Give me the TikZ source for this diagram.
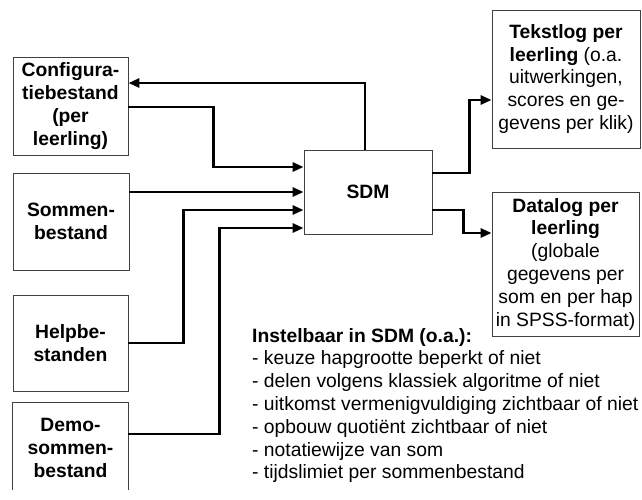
\documentclass[tikz,border=0pt]{standalone}
\usepackage{fontspec}
\setmainfont{Liberation Sans}
\usetikzlibrary{positioning, arrows.meta}

\tikzset{
  box/.style={draw=black!75, line width=0.8pt, inner sep=0pt, align=center},
  flow/.style={line width=2.7pt, -{Triangle[length=11pt,width=9pt]}}
}

\begin{document}
\begin{tikzpicture}[x=1pt, y=-1pt, font=\fontsize{19.3}{22.8}\selectfont]
            \useasboundingbox (0,0) rectangle (642,499);

            %Nodes
            \node[box, minimum width=115pt, minimum height=98pt] at (70.5,106) (config) {\textbf{Configura-}\\\textbf{tiebestand}\\\textbf{(per}\\\textbf{leerling)}};
            \node[box, minimum width=116pt, minimum height=97pt] at (71,221.5) (sommen) {\textbf{Sommen-}\\\textbf{bestand}};
            \node[box, minimum width=115pt, minimum height=96pt] at (70.5,343) (help) {\textbf{Helpbe-}\\\textbf{standen}};
            \node[box, draw=none, minimum width=115pt, minimum height=90pt] at (70.5,448) (demo) {\textbf{Demo-}\\\textbf{sommen-}\\\textbf{bestand}};
            \node[box, minimum width=128pt, minimum height=84pt] at (368,192) (sdm) {\textbf{SDM}};
            \node[box, minimum width=148pt, minimum height=138pt] at (566,79) (tekst) {\textbf{Tekstlog per}\\\textbf{leerling} (o.a.\\uitwerkingen,\\scores en ge-\\gevens per klik)};
            \node[box, minimum width=147pt, minimum height=144pt] at (565.5,264) (data) {\textbf{Datalog per}\\\textbf{leerling}\\(globale\\gegevens per\\som en per hap\\in SPSS-format)};
            \node[anchor=north west, inner sep=0pt, align=left] at (252,328) (opties) {\textbf{Instelbaar in SDM (o.a.):}\\- keuze hapgrootte beperkt of niet\\- delen volgens klassiek algoritme of niet\\- uitkomst vermenigvuldiging zichtbaar of niet\\- opbouw quoti\"ent zichtbaar of niet\\- notatiewijze van som\\- tijdslimiet per sommenbestand};

            %Open box
            \draw[draw=black!75, line width=0.8pt] ([yshift=3pt]demo.south west) |- (demo.north east) -- ([yshift=3pt]demo.south east);

            %Lines
            \draw[flow] ([xshift=-3pt]sdm.north) |- ([yshift=23pt]config.east);
            \draw[flow] ([yshift=-1pt]config.east) -- ++(85,0) |- ([yshift=25pt]sdm.west);
            \draw[flow] (sommen.east |- sdm.west) -- (sdm.west);
            \draw[flow] (help.east) -- ++(55,0) |- ([yshift=-18pt]sdm.west);
            \draw[flow] ([yshift=14pt]demo.east) -- ++(91,0) |- ([yshift=-36pt]sdm.west);
            \draw[flow] ([yshift=19pt]sdm.east) -- ++(37,0) |- ([yshift=-21pt]tekst.west);
            \draw[flow] ([yshift=-18pt]sdm.east) -- ++(31,0) |- ([yshift=31pt]data.west);
        \end{tikzpicture}
\end{document}
